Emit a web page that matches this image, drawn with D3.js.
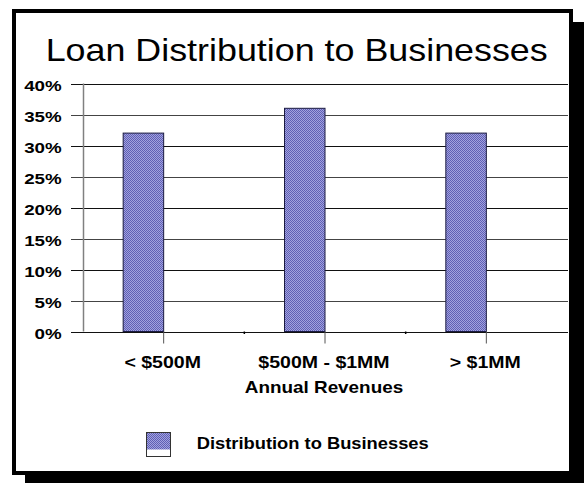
<!DOCTYPE html>
<html>
<head>
<meta charset="utf-8">
<script src="https://cdn.jsdelivr.net/npm/d3@7"></script>
<style>
  html, body { margin: 0; padding: 0; background: #fff; }
  svg { display: block; }
</style>
</head>
<body>
<div id="chart"></div>
<script>
const categories = ["< $500M", "$500M - $1MM", "> $1MM"];
const shares = [0.32, 0.36, 0.32];
const yTickValues = [0, 0.05, 0.10, 0.15, 0.20, 0.25, 0.30, 0.35, 0.40];
const seriesName = "Distribution to Businesses";
const axisTitle = "Annual Revenues";
const chartTitle = "Loan Distribution to Businesses";

function renderLoanChart() {
    const width = 584;
    const height = 483;
    const font = "'Liberation Sans', Arial, sans-serif";

    const svg = d3.select("#chart").append("svg")
        .attr("width", width)
        .attr("height", height)
        .attr("viewBox", `0 0 ${width} ${height}`);

    // widen text a bit, the original glyphs look horizontally stretched
    const stretch = (sel, sx) => sel.each(function () {
        const w = this.getComputedTextLength();
        d3.select(this).attr("textLength", w * sx).attr("lengthAdjust", "spacingAndGlyphs");
    });

    const defs = svg.append("defs");
    const pat = defs.append("pattern")
        .attr("id", "dither")
        .attr("patternUnits", "userSpaceOnUse")
        .attr("width", 2)
        .attr("height", 2);
    pat.append("rect").attr("width", 2).attr("height", 2).attr("fill", "#a2a2de");
    pat.append("rect").attr("width", 1).attr("height", 1).attr("fill", "#5f5fb4");
    pat.append("rect").attr("x", 1).attr("y", 1).attr("width", 1).attr("height", 1).attr("fill", "#5f5fb4");

    // drop shadow + framed panel
    svg.append("rect")
        .attr("x", 25).attr("y", 22)
        .attr("width", width - 25).attr("height", height - 22)
        .attr("fill", "#000");
    svg.append("rect")
        .attr("x", 14).attr("y", 11)
        .attr("width", 557).attr("height", 462)
        .attr("fill", "#fff")
        .attr("stroke", "#000")
        .attr("stroke-width", 4);

    svg.append("text")
        .attr("x", 296.7)
        .attr("y", 61)
        .attr("text-anchor", "middle")
        .style("font-family", font)
        .style("font-size", "32px")
        .attr("fill", "#000")
        .text(chartTitle)
        .call(stretch, 1.12);

    const x = d3.scaleBand().domain(categories).range([83, 567]).padding(0);
    const y = d3.scaleLinear().domain([0, 0.4]).range([331.5, 83.5]);
    const fmt = d3.format(".0%");

    // gridlines (extend left of the axis like tick marks)
    svg.append("g")
        .selectAll("line")
        .data(yTickValues)
        .join("line")
        .attr("x1", 71)
        .attr("x2", 568)
        .attr("y1", (d) => Math.round(y(d)) + 0.5)
        .attr("y2", (d) => Math.round(y(d)) + 0.5)
        .attr("stroke", (d, i) => i % 2 ? "#444" : "#111")
        .attr("stroke-width", 1.2);

    svg.append("g")
        .selectAll("text")
        .data(yTickValues)
        .join("text")
        .attr("x", 61.7)
        .attr("y", (d) => y(d) + 7.3)
        .attr("text-anchor", "end")
        .style("font-family", font)
        .style("font-size", "15px")
        .style("font-weight", "bold")
        .attr("fill", "#000")
        .text((d) => fmt(d))
        .call(stretch, 1.25);

    // value axis line
    svg.append("line")
        .attr("x1", 83.5).attr("x2", 83.5)
        .attr("y1", y(0.4)).attr("y2", y(0))
        .attr("stroke", "#808080")
        .attr("stroke-width", 1.5);

    const barW = 40.5;
    const center = (c) => x(c) + x.bandwidth() / 2;

    svg.append("g")
        .selectAll("rect")
        .data(categories)
        .join("rect")
        .attr("x", (c) => center(c) - barW)
        .attr("y", (c, i) => y(shares[i]))
        .attr("width", barW)
        .attr("height", (c, i) => y(0) - y(shares[i]))
        .attr("fill", "url(#dither)")
        .attr("stroke", "#1a1a40")
        .attr("stroke-width", 1);

    // category ticks
    svg.append("g")
        .selectAll("line")
        .data(categories)
        .join("line")
        .attr("x1", (c) => center(c))
        .attr("x2", (c) => center(c))
        .attr("y1", y(0))
        .attr("y2", y(0) + 12)
        .attr("stroke", "#555")
        .attr("stroke-width", 1);

    svg.append("g")
        .selectAll("line")
        .data(categories.slice(1))
        .join("line")
        .attr("x1", (c) => x(c))
        .attr("x2", (c) => x(c))
        .attr("y1", y(0))
        .attr("y2", y(0) + 2.5)
        .attr("stroke", "#000")
        .attr("stroke-width", 1.5);

    svg.append("g")
        .selectAll("text")
        .data(categories)
        .join("text")
        .attr("x", (c) => center(c) - 1)
        .attr("y", 368.3)
        .attr("text-anchor", "middle")
        .style("font-family", font)
        .style("font-size", "16px")
        .style("font-weight", "bold")
        .attr("fill", "#000")
        .text((c) => c)
        .call(stretch, 1.22);

    svg.append("text")
        .attr("x", 324)
        .attr("y", 393.3)
        .attr("text-anchor", "middle")
        .style("font-family", font)
        .style("font-size", "17px")
        .style("font-weight", "bold")
        .attr("fill", "#000")
        .text(axisTitle)
        .call(stretch, 1.11);

    // legend
    const lg = svg.append("g");
    lg.append("rect")
        .attr("x", 146.5).attr("y", 432.5)
        .attr("width", 24).attr("height", 24)
        .attr("fill", "#fff")
        .attr("stroke", "#333")
        .attr("stroke-width", 1);
    lg.append("rect")
        .attr("x", 147).attr("y", 433)
        .attr("width", 23).attr("height", 16.5)
        .attr("fill", "url(#dither)");
    lg.append("text")
        .attr("x", 196.7)
        .attr("y", 449.3)
        .style("font-family", font)
        .style("font-size", "16.5px")
        .style("font-weight", "bold")
        .attr("fill", "#000")
        .text(seriesName)
        .call(stretch, 1.11);
}

renderLoanChart();
</script>
</body>
</html>
